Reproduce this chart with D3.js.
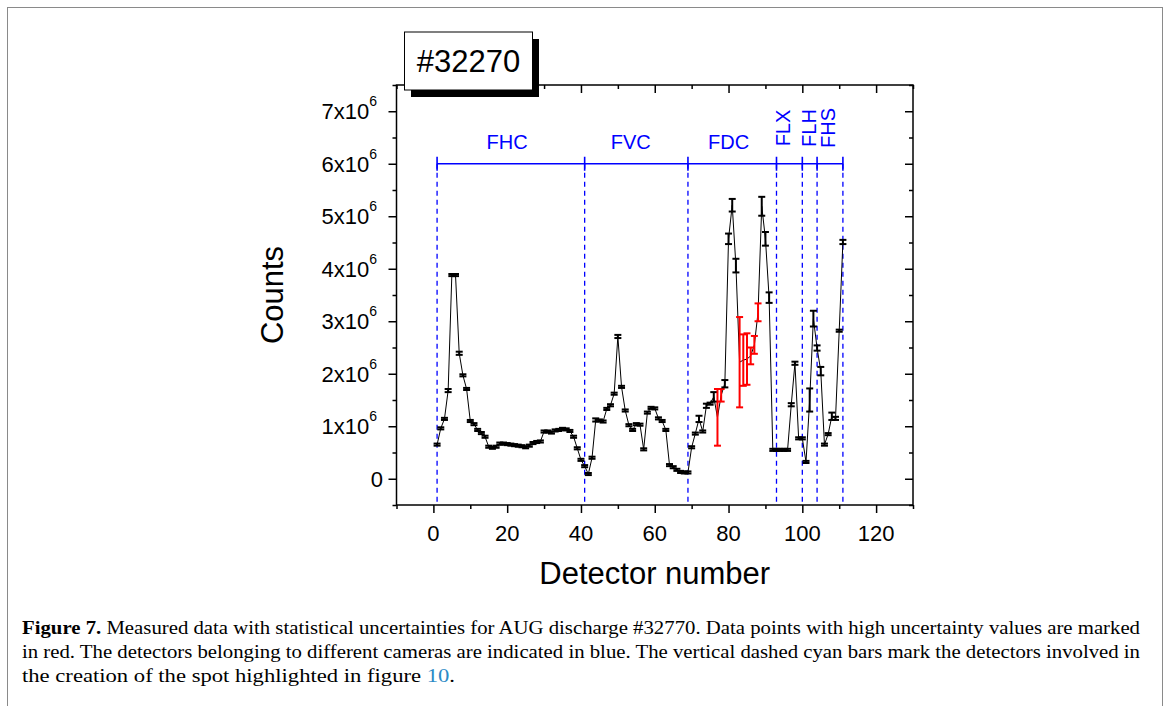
<!DOCTYPE html>
<html><head><meta charset="utf-8">
<script src="https://cdn.jsdelivr.net/npm/d3@7"></script>
<style>
html,body{margin:0;padding:0;background:#fff;}
svg{display:block;}
</style></head>
<body>
<svg id="chart" width="1170" height="706"></svg>
<script>
// ---- data (counts in units of 1e6, detectors 1..111) ----
const counts = [
 0.65,0.96,1.14,1.68,3.88,3.88,2.39,1.97,1.71,1.10,
 1.04,0.93,0.87,0.80,0.61,0.59,0.61,0.67,0.67,0.66,
 0.65,0.64,0.63,0.62,0.60,0.63,0.68,0.70,0.71,0.90,
 0.90,0.88,0.92,0.93,0.95,0.94,0.91,0.80,0.58,0.36,
 0.24,0.09,0.40,1.12,1.11,1.09,1.33,1.40,1.62,2.71,
 1.75,1.30,1.02,0.93,1.04,1.03,0.56,1.26,1.35,1.34,
 1.15,1.10,0.93,0.26,0.22,0.17,0.13,0.12,0.12,0.60,
 0.86,1.14,0.90,1.39,1.43,1.56,1.17,1.59,1.81,4.57,
 5.21,4.06,2.22,2.26,2.28,2.34,2.55,3.17,5.19,4.57,
 3.45,0.55,0.55,0.55,0.55,0.55,1.41,2.20,0.77,0.77,
 0.32,1.50,3.05,2.49,2.05,0.65,0.85,1.19,1.15,2.82,
 4.51
];
const errors = [
 0.02,0.02,0.02,0.03,0.02,0.02,0.03,0.02,0.02,0.02,
 0.02,0.02,0.02,0.02,0.02,0.02,0.02,0.02,0.02,0.02,
 0.02,0.02,0.02,0.02,0.02,0.02,0.02,0.02,0.02,0.02,
 0.02,0.02,0.02,0.02,0.02,0.02,0.02,0.02,0.02,0.02,
 0.02,0.02,0.02,0.03,0.02,0.02,0.02,0.02,0.02,0.03,
 0.02,0.02,0.02,0.02,0.02,0.02,0.02,0.02,0.02,0.02,
 0.02,0.02,0.02,0.02,0.02,0.02,0.02,0.02,0.02,0.02,
 0.02,0.06,0.02,0.04,0.02,0.09,0.54,0.12,0.07,0.10,
 0.12,0.13,0.86,0.49,0.49,0.16,0.17,0.17,0.18,0.13,
 0.10,0.02,0.02,0.02,0.02,0.02,0.03,0.03,0.02,0.02,
 0.02,0.22,0.15,0.05,0.08,0.02,0.02,0.07,0.03,0.02,
 0.04
];
const redDetectors = [77,78,83,84,85,86,87,88];
const boundaries = [1,41,69,93,100,104,111];
const cameraLabels = ["FHC","FVC","FDC"];
const cameraLabelX = [20,53.5,80];
const rotatedLabels = ["FLX","FLH","FHS"];
const rotatedLabelX = [94.8,101.9,107];
const cameraLineValue = 6;           // in 1e6
const xTicks = [0,20,40,60,80,100,120];
const xMinorTicks = [-10,10,30,50,70,90,110,130];
const yTicks = [0,1,2,3,4,5,6,7];
const yMinorTicks = [-0.5,0.5,1.5,2.5,3.5,4.5,5.5,6.5,7.5];
const titleText = "#32270";
const captionLines = [
 ["Figure 7.", " Measured data with statistical uncertainties for AUG discharge #32770. Data points with high uncertainty values are marked"],
 ["", "in red. The detectors belonging to different cameras are indicated in blue. The vertical dashed cyan bars mark the detectors involved in"],
 ["", "the creation of the spot highlighted in figure "]
];

const data = counts.map((c,i)=>({det:i+1, v:c, e:errors[i], red:redDetectors.includes(i+1)}));

const svg = d3.select("#chart");
const W=1170,H=706;
const L=396.5, R=913, T=85, B=505;
const x = d3.scaleLinear().domain([-10,130]).range([L,R]);
const y = d3.scaleLinear().domain([-0.5,7.5]).range([B,T]);
const SANS = "'Liberation Sans', Arial, Helvetica, sans-serif";
const BLUE = "#0000ff";

// outer frame
svg.append("rect").attr("x",7.5).attr("y",7.5).attr("width",1155).attr("height",760)
  .attr("fill","none").attr("stroke","#8a8a8a").attr("stroke-width",1);

// axes
function styleAxis(g){
  g.select(".domain").remove();
  g.selectAll("line").attr("stroke","#000").attr("stroke-width",1.5);
  g.selectAll("text").remove();
}
svg.append("g").attr("transform",`translate(0,${B})`)
  .call(d3.axisBottom(x).tickValues(xTicks).tickSize(8)).call(styleAxis);
svg.append("g").attr("transform",`translate(0,${B})`)
  .call(d3.axisBottom(x).tickValues(xMinorTicks).tickSize(4)).call(styleAxis);
svg.append("g").attr("transform",`translate(0,${T})`)
  .call(d3.axisTop(x).tickValues(xTicks).tickSize(-8)).call(styleAxis);
svg.append("g").attr("transform",`translate(0,${T})`)
  .call(d3.axisTop(x).tickValues(xMinorTicks).tickSize(-4)).call(styleAxis);
svg.append("g").attr("transform",`translate(${L},0)`)
  .call(d3.axisLeft(y).tickValues(yTicks).tickSize(8)).call(styleAxis);
svg.append("g").attr("transform",`translate(${L},0)`)
  .call(d3.axisLeft(y).tickValues(yMinorTicks).tickSize(4)).call(styleAxis);
svg.append("g").attr("transform",`translate(${R},0)`)
  .call(d3.axisRight(y).tickValues(yTicks).tickSize(-8)).call(styleAxis);
svg.append("g").attr("transform",`translate(${R},0)`)
  .call(d3.axisRight(y).tickValues(yMinorTicks).tickSize(-4)).call(styleAxis);

svg.append("rect").attr("x",L).attr("y",T).attr("width",R-L).attr("height",B-T)
  .attr("fill","none").attr("stroke","#000").attr("stroke-width",1.5);

// x tick labels
svg.append("g").selectAll("text").data(xTicks).join("text")
  .attr("x",d=>x(d)).attr("y",B+36).attr("text-anchor","middle")
  .attr("font-family",SANS).attr("font-size",22).text(d=>d);
// y tick labels
const yl = svg.append("g").selectAll("text").data(yTicks).join("text")
  .attr("y",d=>y(d)+8).attr("font-family",SANS).attr("font-size",22)
  .attr("text-anchor","end")
  .attr("x",d=>d===0?383:377);
yl.each(function(d){
  const t=d3.select(this);
  if(d===0){t.text("0");return;}
  t.append("tspan").text(d+"x10");
  t.append("tspan").attr("dy",-13).attr("font-size",14).text("6");
});

// axis titles
svg.append("text").attr("x",(L+R)/2).attr("y",584).attr("text-anchor","middle")
  .attr("font-family",SANS).attr("font-size",31).text("Detector number");
svg.append("text").attr("transform",`translate(283,${(T+B)/2}) rotate(-90)`)
  .attr("text-anchor","middle").attr("font-family",SANS).attr("font-size",31).text("Counts");

// camera boundaries (dashed)
svg.append("g").selectAll("line").data(boundaries).join("line")
  .attr("x1",d=>x(d)).attr("x2",d=>x(d)).attr("y1",y(cameraLineValue)).attr("y2",B)
  .attr("stroke",BLUE).attr("stroke-width",1.3).attr("stroke-dasharray","5,4");
svg.append("line").attr("x1",x(boundaries[0])).attr("x2",x(boundaries[boundaries.length-1]))
  .attr("y1",y(cameraLineValue)).attr("y2",y(cameraLineValue))
  .attr("stroke",BLUE).attr("stroke-width",1.6);
svg.append("g").selectAll("line").data(boundaries).join("line")
  .attr("x1",d=>x(d)).attr("x2",d=>x(d))
  .attr("y1",y(cameraLineValue)-7).attr("y2",y(cameraLineValue)+7)
  .attr("stroke",BLUE).attr("stroke-width",1.6);
svg.append("g").selectAll("text").data(cameraLabels).join("text")
  .attr("x",(d,i)=>x(cameraLabelX[i])).attr("y",y(cameraLineValue)-15)
  .attr("text-anchor","middle").attr("font-family",SANS).attr("font-size",20)
  .attr("fill",BLUE).text(d=>d);
svg.append("g").selectAll("text").data(rotatedLabels).join("text")
  .attr("transform",(d,i)=>`translate(${x(rotatedLabelX[i])+7},128) rotate(-90)`)
  .attr("text-anchor","middle").attr("font-family",SANS).attr("font-size",20)
  .attr("fill",BLUE).text(d=>d);

// connecting line
svg.append("path").datum(data)
  .attr("d",d3.line().x(d=>x(d.det)).y(d=>y(d.v)))
  .attr("fill","none").attr("stroke","#000").attr("stroke-width",1);

// error bars
const cap=3.5;
const eb = svg.append("g").selectAll("g").data(data).join("g")
  .attr("stroke",d=>d.red?"#ff0000":"#000").attr("stroke-width",2);
eb.append("line").attr("x1",d=>x(d.det)).attr("x2",d=>x(d.det))
  .attr("y1",d=>y(d.v+d.e)).attr("y2",d=>y(d.v-d.e));
eb.append("line").attr("x1",d=>x(d.det)-cap).attr("x2",d=>x(d.det)+cap)
  .attr("y1",d=>y(d.v+d.e)).attr("y2",d=>y(d.v+d.e));
eb.append("line").attr("x1",d=>x(d.det)-cap).attr("x2",d=>x(d.det)+cap)
  .attr("y1",d=>y(d.v-d.e)).attr("y2",d=>y(d.v-d.e));

// title box with shadow
svg.append("rect").attr("x",411).attr("y",39).attr("width",128).attr("height",58).attr("fill","#000");
svg.append("rect").attr("x",404.5).attr("y",32).attr("width",128).attr("height",58)
  .attr("fill","#fff").attr("stroke","#000").attr("stroke-width",1);
svg.append("text").attr("x",468.5).attr("y",72).attr("text-anchor","middle")
  .attr("font-family",SANS).attr("font-size",31).text(titleText);

// caption
const SERIF = "'Liberation Serif','Times New Roman',serif";
const capY=[634,658,682];
const capLen=[1118,1118,null];
captionLines.forEach((ln,i)=>{
  const t=svg.append("text").attr("x",22).attr("y",capY[i])
    .attr("font-family",SERIF).attr("font-size",19).attr("fill","#000");
  if(capLen[i]) t.attr("textLength",capLen[i]).attr("lengthAdjust","spacingAndGlyphs");
  if(ln[0]) t.append("tspan").attr("font-weight","bold").text(ln[0]);
  t.append("tspan").text(ln[1]);
  if(i===2){
    t.append("tspan").attr("fill","#2b8ac6").text("10");
    t.append("tspan").text(".");
    t.attr("textLength",433).attr("lengthAdjust","spacingAndGlyphs");
  }
});
</script>
</body></html>
